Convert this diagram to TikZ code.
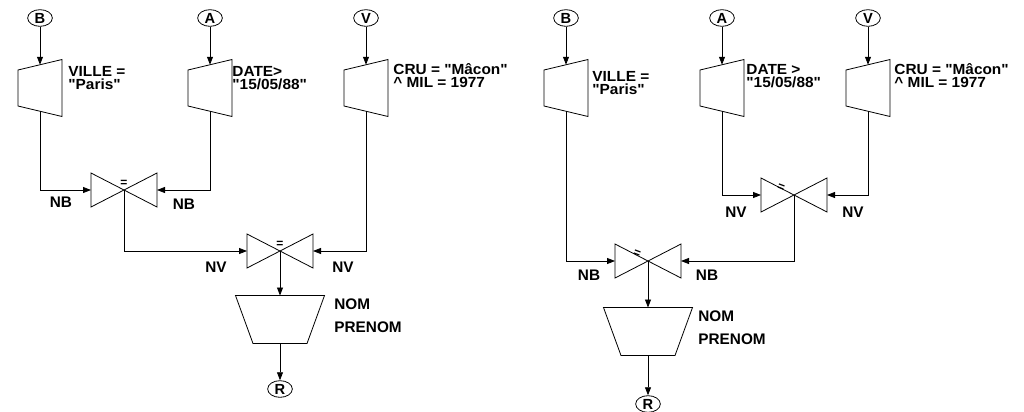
\documentclass[tikz,border=0pt]{standalone}
\usepackage{fontspec}
\setmainfont{Liberation Sans}
\newfontfamily\widefont{Liberation Sans}[FakeStretch=1.05]
\usetikzlibrary{arrows.meta,shapes.geometric}
\tikzset{
  sel/.pic={
    \draw (-22,-18) -- (22,-28.5) -- (22,28.5) -- (-22,18) -- cycle;
    \coordinate (-t) at (0,-23.25);
    \coordinate (-b) at (0,23.25);
  },
  bow/.pic={
    \draw (-33,-17) -- (-33,17) -- (33,-17) -- (33,17) -- cycle;
    \coordinate (-c) at (0,0);
    \coordinate (-l) at (-33,0);
    \coordinate (-r) at (33,0);
  },
  proj/.pic={
    \draw (-44.5,-24) -- (44.5,-24) -- (27,24) -- (-27,24) -- cycle;
    \coordinate (-t) at (0,-24);
    \coordinate (-b) at (0,24);
  },
  arr/.style={-{Triangle[length=6pt,width=4.5pt]}},
  term/.style={draw, ellipse, minimum width=18.5pt, minimum height=12.5pt, inner sep=0pt,
    font=\bfseries\fontsize{11}{11}\selectfont},
  cond/.style={anchor=west, align=left, inner sep=0pt,
    font=\widefont\bfseries\fontsize{11}{9.8}\selectfont},
  attr/.style={anchor=west, align=left, inner sep=0pt,
    font=\bfseries\fontsize{11.5}{17}\selectfont},
  lbl/.style={inner sep=0pt, font=\bfseries\fontsize{11.5}{11.5}\selectfont},
  eqs/.style={inner sep=0pt, font=\bfseries\fontsize{9}{9}\selectfont},
}
\begin{document}
\begin{tikzpicture}[x=0.75pt,y=-0.75pt,line width=0.6pt]
\useasboundingbox (0,0) rectangle (1024,411);

% ---------------- left diagram ----------------
\node[term] (lB) at (40,18) {B};
\node[term] (lA) at (210,18) {A};
\node[term] (lV) at (366,18) {V};
\pic (lsB) at (40,88) {sel};
\pic (lsA) at (210,88) {sel};
\pic (lsV) at (366,88) {sel};
\node[cond] (lcB) at (68,78) {VILLE =\\"Paris"};
\node[cond] (lcA) at (232,78) {DATE>\\"15/05/88"};
\node[cond] (lcV) at (393,76) {CRU = "Mâcon"\\\textasciicircum{} MIL = 1977};
\draw[arr] (lB.south) -- (lsB-t);
\draw[arr] (lA.south) -- (lsA-t);
\draw[arr] (lV.south) -- (lsV-t);

\pic (lj1) at (124,190) {bow};
\node[eqs] (le1) at (124,183) {=};
\draw[arr] (lsB-b) |- (lj1-l);
\draw[arr] (lsA-b) |- (lj1-r);
\node[lbl] (ln1) at (61,202) {NB};
\node[lbl] (ln2) at (184,204) {NB};

\pic (lj2) at (280,251) {bow};
\node[eqs] (le2) at (280,244) {=};
\draw[arr] (lj1-c) |- (lj2-l);
\draw[arr] (lsV-b) |- (lj2-r);
\node[lbl] (ln3) at (216,267) {NV};
\node[lbl] (ln4) at (343,267) {NV};

\pic (lp) at (280,319.5) {proj};
\draw[arr] (lj2-c) -- (lp-t);
\node[attr] (lat) at (334,315.5) {NOM\\PRENOM};
\node[term] (lR) at (280,389) {R};
\draw[arr] (lp-b) -- (lR.north);

% ---------------- right diagram ----------------
\node[term] (rB) at (566,18) {B};
\node[term] (rA) at (722,18) {A};
\node[term] (rV) at (868,18) {V};
\pic (rsB) at (566,88) {sel};
\pic (rsA) at (722,88) {sel};
\pic (rsV) at (868,88) {sel};
\node[cond] (rcB) at (592,83) {VILLE =\\"Paris"};
\node[cond] (rcA) at (746,76) {DATE >\\"15/05/88"};
\node[cond] (rcV) at (894,76) {CRU = "Mâcon"\\\textasciicircum{} MIL = 1977};
\draw[arr] (rB.south) -- (rsB-t);
\draw[arr] (rA.south) -- (rsA-t);
\draw[arr] (rV.south) -- (rsV-t);

\pic (rj1) at (794,195) {bow};
\node[eqs,rotate=-20] (re1) at (781,188) {=};
\draw[arr] (rsA-b) |- (rj1-l);
\draw[arr] (rsV-b) |- (rj1-r);
\node[lbl] (rn1) at (736,212) {NV};
\node[lbl] (rn2) at (853,212) {NV};

\pic (rj2) at (648,261) {bow};
\node[eqs,rotate=-20] (re2) at (637,254) {=};
\draw[arr] (rj1-c) |- (rj2-r);
\draw[arr] (rsB-b) |- (rj2-l);
\node[lbl] (rn3) at (589,275) {NB};
\node[lbl] (rn4) at (707,275) {NB};

\pic (rp) at (648,331.5) {proj};
\draw[arr] (rj2-c) -- (rp-t);
\node[attr] (rat) at (698,328) {NOM\\PRENOM};
\node[term] (rR) at (648,404) {R};
\draw[arr] (rp-b) -- (rR.north);
\end{tikzpicture}
\end{document}
